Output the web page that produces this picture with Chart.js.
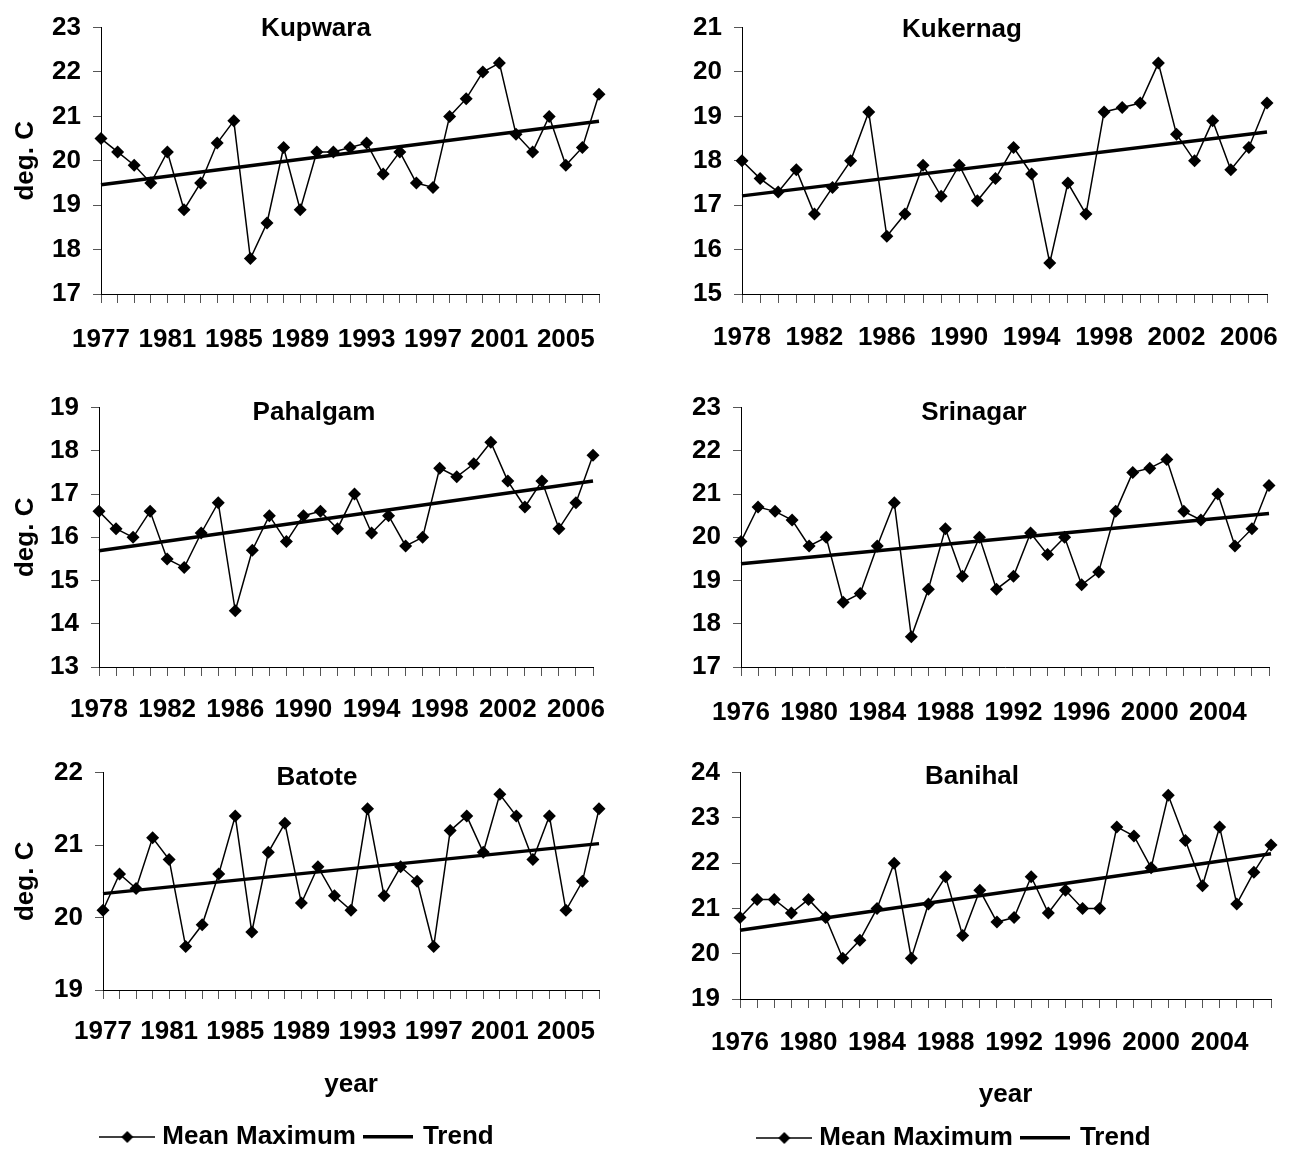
<!DOCTYPE html>
<html>
<head>
<meta charset="utf-8">
<title>Mean maximum temperature trends</title>
<script src="https://cdn.jsdelivr.net/npm/chart.js@4.4.0/dist/chart.umd.min.js"></script>
<style>
  html, body { margin: 0; padding: 0; background: #fff; overflow: hidden; }
  body { width: 1293px; height: 1151px; position: relative; }
  .panel { position: absolute; }
</style>
</head>
<body>
<div class="panel" id="p1"><canvas id="c1"></canvas></div>
<div class="panel" id="p2"><canvas id="c2"></canvas></div>
<div class="panel" id="p3"><canvas id="c3"></canvas></div>
<div class="panel" id="p4"><canvas id="c4"></canvas></div>
<div class="panel" id="p5"><canvas id="c5"></canvas></div>
<div class="panel" id="p6"><canvas id="c6"></canvas></div>
<script>
// Mean maximum temperature (deg. C), one value per year from the start year
const kupwaraStart = 1977;
const kupwaraValues = [20.5, 20.2, 19.9, 19.5, 20.2, 18.9, 19.5, 20.4, 20.9, 17.8, 18.6, 20.3, 18.9, 20.2, 20.2, 20.3,
  20.4, 19.7, 20.2, 19.5, 19.4, 21.0, 21.4, 22.0, 22.2, 20.6, 20.2, 21.0, 19.9, 20.3, 21.5];
const kupwaraTrend = [19.46, 20.89];

const kukernagStart = 1978;
const kukernagValues = [18.0, 17.6, 17.3, 17.8, 16.8, 17.4, 18.0, 19.1, 16.3, 16.8, 17.9, 17.2, 17.9, 17.1, 17.6,
  18.3, 17.7, 15.7, 17.5, 16.8, 19.1, 19.2, 19.3, 20.2, 18.6, 18.0, 18.9, 17.8, 18.3, 19.3];
const kukernagTrend = [17.21, 18.65];

const pahalgamStart = 1978;
const pahalgamValues = [16.6, 16.2, 16.0, 16.6, 15.5, 15.3, 16.1, 16.8, 14.3, 15.7, 16.5, 15.9, 16.5, 16.6, 16.2,
  17.0, 16.1, 16.5, 15.8, 16.0, 17.6, 17.4, 17.7, 18.2, 17.3, 16.7, 17.3, 16.2, 16.8, 17.9];
const pahalgamTrend = [15.69, 17.30];

const srinagarStart = 1976;
const srinagarValues = [19.9, 20.7, 20.6, 20.4, 19.8, 20.0, 18.5, 18.7, 19.8, 20.8, 17.7, 18.8, 20.2, 19.1, 20.0,
  18.8, 19.1, 20.1, 19.6, 20.0, 18.9, 19.2, 20.6, 21.5, 21.6, 21.8, 20.6, 20.4, 21.0, 19.8, 20.2, 21.2];
const srinagarTrend = [19.39, 20.55];

const batoteStart = 1977;
const batoteValues = [20.1, 20.6, 20.4, 21.1, 20.8, 19.6, 19.9, 20.6, 21.4, 19.8, 20.9, 21.3, 20.2, 20.7, 20.3,
  20.1, 21.5, 20.3, 20.7, 20.5, 19.6, 21.2, 21.4, 20.9, 21.7, 21.4, 20.8, 21.4, 20.1, 20.5, 21.5];
const batoteTrend = [20.33, 21.02];

const banihalStart = 1976;
const banihalValues = [20.8, 21.2, 21.2, 20.9, 21.2, 20.8, 19.9, 20.3, 21.0, 22.0, 19.9, 21.1, 21.7, 20.4, 21.4,
  20.7, 20.8, 21.7, 20.9, 21.4, 21.0, 21.0, 22.8, 22.6, 21.9, 23.5, 22.5, 21.5, 22.8, 21.1, 21.8, 22.4];
const banihalTrend = [20.52, 22.21];

const seriesNames = ['Mean Maximum', 'Trend'];
const yAxisLabel = 'deg. C';
const xAxisLabel = 'year';
const labelEvery = 4;

const FONT = '"Liberation Sans", Arial, Helvetica, sans-serif';
Chart.defaults.font.family = FONT;
Chart.defaults.color = '#000';

// legend icons: line with diamond, thick line
function makeMarkerIcon() {
    const c = document.createElement('canvas');
    c.width = 56; c.height = 16;
    const g = c.getContext('2d');
    g.strokeStyle = '#000';
    g.lineWidth = 1.5;
    g.beginPath(); g.moveTo(0, 8); g.lineTo(56, 8); g.stroke();
    g.fillStyle = '#000';
    g.beginPath(); g.moveTo(28, 2); g.lineTo(34, 8); g.lineTo(28, 14); g.lineTo(22, 8); g.closePath(); g.fill();
    return c;
}
function makeTrendIcon() {
    const c = document.createElement('canvas');
    c.width = 50; c.height = 8;
    const g = c.getContext('2d');
    g.fillStyle = '#000';
    g.fillRect(0, 2, 50, 3.5);
    return c;
}
const markerIcon = makeMarkerIcon();
const trendIcon = makeTrendIcon();

// station name drawn inside the plot
const panelTitle = {
    id: 'panelTitle',
    afterDraw(chart, args, opts) {
        const ctx = chart.ctx;
        ctx.save();
        ctx.font = 'bold 26px ' + FONT;
        ctx.fillStyle = '#000';
        ctx.textAlign = 'center';
        ctx.textBaseline = 'alphabetic';
        ctx.fillText(opts.text, opts.x, opts.y);
        ctx.restore();
    }
};

const panels = [
    { id: 'p1', canvas: 'c1', name: 'Kupwara', start: kupwaraStart, values: kupwaraValues, trend: kupwaraTrend,
      yMin: 17, yMax: 23, left: 0, top: 0, width: 620, height: 354, padTop: 19, padRight: 19,
      yWidth: 101, xHeight: 60, xPad: 21, yTitle: true, bottom: false, titleX: 316, titleY: 36 },
    { id: 'p2', canvas: 'c2', name: 'Kukernag', start: kukernagStart, values: kukernagValues, trend: kukernagTrend,
      yMin: 15, yMax: 21, left: 640, top: 0, width: 650, height: 354, padTop: 19, padRight: 23,
      yWidth: 102, xHeight: 60, xPad: 19, yTitle: false, bottom: false, titleX: 322, titleY: 37 },
    { id: 'p3', canvas: 'c3', name: 'Pahalgam', start: pahalgamStart, values: pahalgamValues, trend: pahalgamTrend,
      yMin: 13, yMax: 19, left: 0, top: 380, width: 620, height: 347, padTop: 22, padRight: 27,
      yWidth: 99, xHeight: 60, xPad: 18, yTitle: true, bottom: false, titleX: 314, titleY: 40 },
    { id: 'p4', canvas: 'c4', name: 'Srinagar', start: srinagarStart, values: srinagarValues, trend: srinagarTrend,
      yMin: 17, yMax: 23, left: 640, top: 380, width: 650, height: 347, padTop: 22, padRight: 15,
      yWidth: 101, xHeight: 60, xPad: 21, yTitle: false, bottom: false, titleX: 334, titleY: 40 },
    { id: 'p5', canvas: 'c5', name: 'Batote', start: batoteStart, values: batoteValues, trend: batoteTrend,
      yMin: 19, yMax: 22, left: 0, top: 745, width: 620, height: 415, padTop: 22, padRight: 21,
      yWidth: 103, xHeight: 124, xPad: 17, yTitle: true, bottom: true, titlePadB: 13.4, titleX: 317, titleY: 40 },
    { id: 'p6', canvas: 'c6', name: 'Banihal', start: banihalStart, values: banihalValues, trend: banihalTrend,
      yMin: 19, yMax: 24, left: 640, top: 745, width: 650, height: 416, padTop: 21, padRight: 17,
      yWidth: 100, xHeight: 116, xPad: 19, yTitle: false, bottom: true, titlePadB: 4.4, titleX: 332, titleY: 39 }
];

const axisFont = { family: FONT, size: 26, weight: 'bold' };

panels.forEach(p => {
    const box = document.getElementById(p.id);
    box.style.left = p.left + 'px';
    box.style.top = p.top + 'px';
    const canvas = document.getElementById(p.canvas);
    canvas.width = p.width;
    canvas.height = p.height;

    const years = p.values.map((v, i) => p.start + i);
    const lastYear = years[years.length - 1];
    const points = p.values.map((v, i) => ({ x: years[i], y: v }));
    const trendPoints = [{ x: p.start, y: p.trend[0] }, { x: lastYear, y: p.trend[1] }];

    new Chart(canvas.getContext('2d'), {
        type: 'line',
        data: {
            datasets: [{
                label: seriesNames[0],
                data: points,
                borderColor: '#000',
                borderWidth: 1.5,
                pointStyle: 'rectRot',
                pointRadius: 6.5,
                pointBackgroundColor: '#000',
                pointBorderColor: '#000',
                pointBorderWidth: 0,
                tension: 0,
                clip: false
            }, {
                label: seriesNames[1],
                data: trendPoints,
                borderColor: '#000',
                borderWidth: 3.5,
                pointRadius: 0,
                tension: 0,
                clip: false
            }]
        },
        options: {
            responsive: false,
            animation: false,
            events: [],
            layout: { padding: { top: p.padTop, right: p.padRight, left: 0, bottom: 0 } },
            scales: {
                x: {
                    type: 'linear',
                    min: p.start,
                    max: lastYear,
                    afterFit: scale => { scale.height = p.xHeight; },
                    afterBuildTicks: scale => { scale.ticks = years.map(v => ({ value: v })); },
                    ticks: {
                        stepSize: 1,
                        autoSkip: false,
                        maxRotation: 0,
                        minRotation: 0,
                        padding: p.xPad,
                        color: '#000',
                        font: axisFont,
                        callback: v => ((v - p.start) % labelEvery === 0 ? String(v) : '')
                    },
                    grid: { drawOnChartArea: false, drawTicks: true, tickLength: 9, color: '#555' },
                    border: { color: '#000', width: 1 },
                    title: {
                        display: p.bottom,
                        text: xAxisLabel,
                        color: '#000',
                        font: axisFont,
                        padding: { top: 0, bottom: p.titlePadB || 0 }
                    }
                },
                y: {
                    min: p.yMin,
                    max: p.yMax,
                    afterFit: scale => { scale.width = p.yWidth; },
                    ticks: { stepSize: 1, padding: 12, color: '#000', font: axisFont },
                    grid: { drawOnChartArea: false, drawTicks: true, tickLength: 8, color: '#555' },
                    border: { color: '#000', width: 1 },
                    title: {
                        display: p.yTitle,
                        text: yAxisLabel,
                        color: '#000',
                        font: axisFont,
                        padding: { top: 10, bottom: 0 }
                    }
                }
            },
            plugins: {
                tooltip: { enabled: false },
                panelTitle: { text: p.name, x: p.titleX, y: p.titleY },
                legend: {
                    display: p.bottom,
                    position: 'bottom',
                    labels: {
                        usePointStyle: true,
                        pointStyleWidth: 44,
                        padding: 10,
                        color: '#000',
                        font: axisFont,
                        generateLabels: chart => chart.data.datasets.map((ds, i) => ({
                            text: ds.label,
                            pointStyle: i === 0 ? markerIcon : trendIcon,
                            fillStyle: '#000',
                            strokeStyle: '#000',
                            lineWidth: 0,
                            hidden: false,
                            datasetIndex: i
                        }))
                    }
                }
            }
        },
        plugins: [panelTitle]
    });
});
</script>
</body>
</html>
